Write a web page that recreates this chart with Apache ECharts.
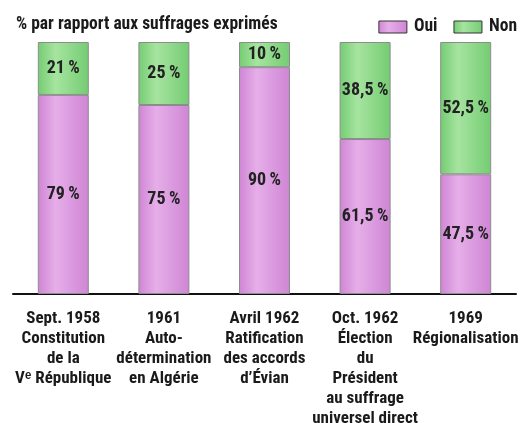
<!DOCTYPE html>
<html>
<head>
<meta charset="utf-8">
<script src="https://cdn.jsdelivr.net/npm/echarts@6/dist/echarts.min.js"></script>
<style>
html,body{margin:0;padding:0;background:#fff;}
#c{width:523px;height:423px;}
</style>
</head>
<body>
<div id="c"></div>
<script>
const categories = [
  'Sept. 1958\nConstitution\nde la\nV\u1D49 République',
  '1961\nAuto-\ndétermination\nen Algérie',
  'Avril 1962\nRatification\ndes accords\nd\u2019Évian',
  'Oct. 1962\nÉlection\ndu\nPrésident\nau suffrage\nuniversel direct',
  '1969\nRégionalisation'
];
const oui = [79, 75, 90, 61.5, 47.5];
const non = [21, 25, 10, 38.5, 52.5];
const seriesNames = ['Oui', 'Non'];
const titleText = '% par rapport aux suffrages exprimés';

const FONT = '"Liberation Sans Narrow", "Roboto Condensed", "Liberation Sans", sans-serif';
const fmt = p => String(p.value).replace('.', ',') + '\u2009%';

function grad(edge, mid) {
  return new echarts.graphic.LinearGradient(0, 0, 1, 0, [
    {offset: 0, color: edge},
    {offset: 0.35, color: mid},
    {offset: 1, color: edge}
  ]);
}

const chart = echarts.init(document.getElementById('c'), null, {renderer: 'canvas'});
chart.setOption({
  animation: false,
  backgroundColor: '#ffffff',
  title: {
    text: titleText,
    left: 11, top: 11,
    textStyle: {fontFamily: FONT, fontWeight: 'bold', fontSize: 17.5, color: '#1a1a1a'}
  },
  legend: {
    right: 6, top: 18, padding: 0,
    itemWidth: 28, itemHeight: 12, itemGap: 16,
    icon: 'rect',
    data: seriesNames,
    itemStyle: {borderColor: '#333', borderWidth: 1},
    textStyle: {fontFamily: FONT, fontWeight: 'bold', fontSize: 17.5, color: '#1a1a1a', padding: [0, 0, 0, 2]}
  },
  grid: {left: 13, right: 7, top: 42, bottom: 129, containLabel: false, outerBoundsMode: 'none'},
  xAxis: {
    type: 'category',
    data: categories,
    axisLine: {lineStyle: {color: '#111', width: 2}},
    axisTick: {show: false},
    axisLabel: {
      interval: 0, margin: 15,
      fontFamily: FONT, fontWeight: 'bold', fontSize: 17, lineHeight: 20, color: '#1a1a1a', align: 'center'
    }
  },
  yAxis: {
    type: 'value', min: 0, max: 100, interval: 20, show: false,
    splitLine: {show: false}
  },
  series: [
    {
      name: seriesNames[0], type: 'bar', stack: 'tot', data: oui, barWidth: 51,
      itemStyle: {color: grad('#cf85d4', '#e6aee9'), borderColor: '#8c8c8c', borderWidth: 1},
      label: {show: true, position: 'inside', formatter: fmt,
        fontFamily: FONT, fontWeight: 'bold', fontSize: 18, color: '#222'}
    },
    {
      name: seriesNames[1], type: 'bar', stack: 'tot', data: non, barWidth: 51,
      itemStyle: {color: grad('#74cc72', '#a6e4a0'), borderColor: '#8c8c8c', borderWidth: 1},
      label: {show: true, position: 'inside', formatter: fmt,
        fontFamily: FONT, fontWeight: 'bold', fontSize: 18, color: '#222'}
    }
  ]
});
</script>
</body>
</html>
